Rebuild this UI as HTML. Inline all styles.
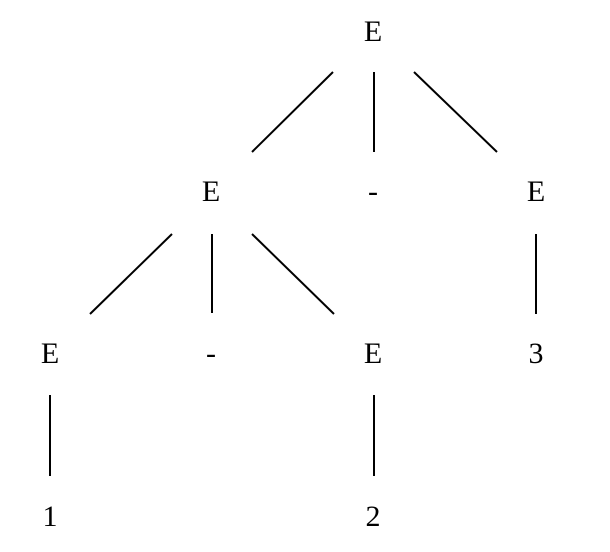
<!DOCTYPE html>
<html><head><meta charset="utf-8"><style>
html,body{margin:0;padding:0;background:#fff;width:610px;height:552px;overflow:hidden}
text{font-family:"Liberation Serif",serif;font-size:30px;fill:#000}
line{stroke:#000;stroke-width:2}
</style></head><body>
<svg width="610" height="552">
<g text-anchor="middle">
<text x="373" y="41">E</text>
<text x="211" y="201">E</text>
<text x="373" y="201">-</text>
<text x="536" y="201">E</text>
<text x="50" y="363">E</text>
<text x="211" y="363">-</text>
<text x="373" y="363">E</text>
<text x="536" y="363">3</text>
<text x="50" y="526">1</text>
<text x="373" y="526">2</text>
</g>
<line x1="333" y1="72" x2="252" y2="152"/>
<line x1="374" y1="72" x2="374" y2="152"/>
<line x1="414" y1="72" x2="497" y2="152"/>
<line x1="172" y1="234" x2="90" y2="314"/>
<line x1="212" y1="234" x2="212" y2="313"/>
<line x1="252" y1="234" x2="334" y2="314"/>
<line x1="536" y1="234" x2="536" y2="314"/>
<line x1="50" y1="395" x2="50" y2="476"/>
<line x1="374" y1="395" x2="374" y2="476"/>
</svg>
</body></html>
